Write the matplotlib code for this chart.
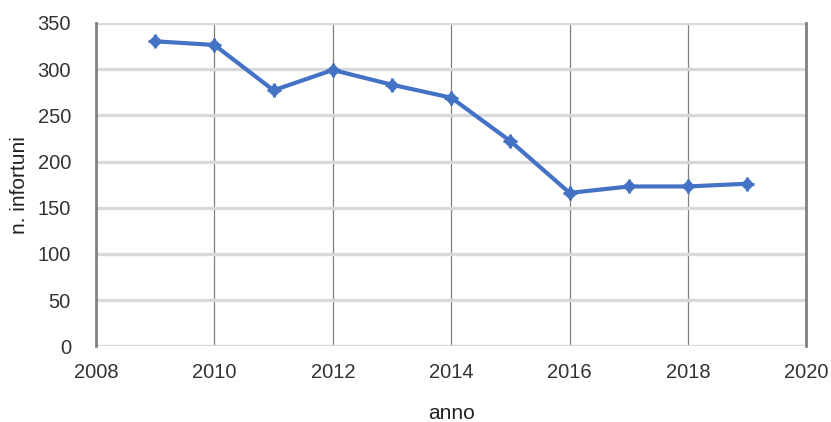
import matplotlib
matplotlib.use('Agg')
import numpy as np
from matplotlib import pyplot as plt

# Data
anni = [2009, 2010, 2011, 2012, 2013, 2014, 2015, 2016, 2017, 2018, 2019]
infortuni = [330, 326, 277, 299, 283, 269, 222, 166, 173, 173, 176]

plt.rcParams['font.family'] = ['Liberation Sans', 'DejaVu Sans']

fig = plt.figure(figsize=(8.31, 4.22), dpi=100)
ax = fig.add_axes([0.1155, 0.179, 0.855, 0.767])

ax.plot(anni, infortuni, color='#4472C4', lw=3, marker='D', ms=6.5,
        zorder=3)
ax.plot(anni, infortuni, color='#4472C4', lw=0, marker='+', ms=10,
        mew=2.2, zorder=3)

ax.set_xlim(2008, 2020)
ax.set_ylim(0, 350)
ax.set_xticks(np.arange(2008, 2021, 2))
ax.set_yticks(np.arange(0, 351, 50))

ax.grid(axis='y', color='#D9D9D9', lw=2.4, zorder=0)
ax.grid(axis='x', color='#808080', lw=0.9, zorder=1)
for s in ['top', 'bottom']:
    ax.spines[s].set_visible(False)
ax.spines['left'].set_color('#808080')
ax.spines['left'].set_linewidth(2)
ax.spines['right'].set_color('#808080')
ax.spines['right'].set_linewidth(2)
ax.tick_params(length=0, labelsize=14.5, colors='#333333')
ax.tick_params(axis='y', pad=18)
ax.tick_params(axis='x', pad=12)

ax.set_xlabel('anno', fontsize=15, color='#222222', labelpad=16)
ax.set_ylabel('n. infortuni', fontsize=15, color='#222222', va='center')
ax.yaxis.set_label_coords(-0.107, 0.5)

plt.savefig('out.png', dpi=100)
